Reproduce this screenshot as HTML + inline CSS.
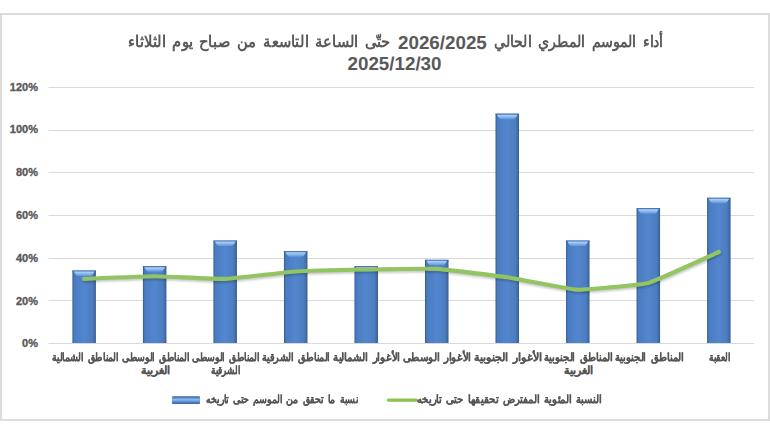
<!DOCTYPE html>
<html lang="ar"><head><meta charset="utf-8"><title>chart</title>
<style>
html,body{margin:0;padding:0;background:#fff}
body{width:770px;height:433px;position:relative;overflow:hidden;font-family:"Liberation Sans",sans-serif}
.box{position:absolute;left:0;top:13px;width:766px;height:404px;border:2px solid #dcdcdc}
svg{position:absolute;left:0;top:0}
.f{position:absolute;white-space:nowrap;direction:rtl;transform-origin:0 0;unicode-bidi:isolate}
.ta{font-size:16px;line-height:22px;color:#595959;font-weight:bold;word-spacing:3px}
.num{position:absolute;white-space:nowrap;color:#595959;font-weight:bold;font-size:18.8px;line-height:22px;text-rendering:geometricPrecision}
.yl{position:absolute;right:732px;font-size:11px;font-weight:bold;color:#595959;line-height:12px;white-space:nowrap;-webkit-text-stroke:0.35px #595959}
.xl{font-size:11px;font-weight:bold;color:#555555;line-height:13px;word-spacing:2px;-webkit-text-stroke:0.15px #555555}
.lg{font-size:10.5px;font-weight:bold;color:#555555;line-height:13px;word-spacing:2px;-webkit-text-stroke:0.15px #555555}
</style></head><body>
<div class="box"></div>

<svg width="770" height="433" viewBox="0 0 770 433"><defs>
<linearGradient id="bg" x1="0" x2="1" y1="0" y2="0">
<stop offset="0" stop-color="#35598c"/><stop offset="0.08" stop-color="#4a7cc2"/><stop offset="0.5" stop-color="#5386cd"/><stop offset="0.85" stop-color="#4b7dbf"/><stop offset="0.95" stop-color="#406aa2"/><stop offset="1" stop-color="#36598a"/>
</linearGradient>
<linearGradient id="hg" x1="0" x2="0" y1="0" y2="1">
<stop offset="0" stop-color="#b3d8fb"/><stop offset="1" stop-color="#5f95dc"/>
</linearGradient>
<linearGradient id="lgb" x1="0" x2="0" y1="0" y2="1">
<stop offset="0" stop-color="#34609f"/><stop offset="0.45" stop-color="#8dbdf0"/><stop offset="0.6" stop-color="#6a9ee0"/><stop offset="1" stop-color="#345f9c"/>
</linearGradient>
<filter id="sh" x="-5%" y="-50%" width="110%" height="200%"><feGaussianBlur stdDeviation="0.9"/></filter>
</defs><rect x="48.5" y="343" width="705.5" height="1" fill="#d9d9d9"/><rect x="48.5" y="300" width="705.5" height="1" fill="#d9d9d9"/><rect x="48.5" y="258" width="705.5" height="1" fill="#d9d9d9"/><rect x="48.5" y="215" width="705.5" height="1" fill="#d9d9d9"/><rect x="48.5" y="172" width="705.5" height="1" fill="#d9d9d9"/><rect x="48.5" y="130" width="705.5" height="1" fill="#d9d9d9"/><rect x="48.5" y="87" width="705.5" height="1" fill="#d9d9d9"/><rect x="72.40" y="270.54" width="23.5" height="72.46" fill="url(#bg)"/><rect x="72.40" y="270.54" width="23.5" height="1" fill="#3e67a3"/><path d="M73.90 271.54 L94.40 271.54 Q92.40 276.04 89.90 276.04 L78.40 276.04 Q75.90 276.04 73.90 271.54 Z" fill="url(#hg)"/><rect x="142.92" y="266.26" width="23.5" height="76.74" fill="url(#bg)"/><rect x="142.92" y="266.26" width="23.5" height="1" fill="#3e67a3"/><path d="M144.42 267.26 L164.92 267.26 Q162.92 271.76 160.42 271.76 L148.92 271.76 Q146.42 271.76 144.42 267.26 Z" fill="url(#hg)"/><rect x="213.44" y="240.58" width="23.5" height="102.42" fill="url(#bg)"/><rect x="213.44" y="240.58" width="23.5" height="1" fill="#3e67a3"/><path d="M214.94 241.58 L235.44 241.58 Q233.44 246.08 230.94 246.08 L219.44 246.08 Q216.94 246.08 214.94 241.58 Z" fill="url(#hg)"/><rect x="283.96" y="251.28" width="23.5" height="91.72" fill="url(#bg)"/><rect x="283.96" y="251.28" width="23.5" height="1" fill="#3e67a3"/><path d="M285.46 252.28 L305.96 252.28 Q303.96 256.78 301.46 256.78 L289.96 256.78 Q287.46 256.78 285.46 252.28 Z" fill="url(#hg)"/><rect x="354.48" y="266.26" width="23.5" height="76.74" fill="url(#bg)"/><rect x="354.48" y="266.26" width="23.5" height="1" fill="#3e67a3"/><path d="M355.98 267.26 L376.48 267.26 Q374.48 271.76 371.98 271.76 L360.48 271.76 Q357.98 271.76 355.98 267.26 Z" fill="url(#hg)"/><rect x="425.00" y="259.84" width="23.5" height="83.16" fill="url(#bg)"/><rect x="425.00" y="259.84" width="23.5" height="1" fill="#3e67a3"/><path d="M426.50 260.84 L447.00 260.84 Q445.00 265.34 442.50 265.34 L431.00 265.34 Q428.50 265.34 426.50 260.84 Z" fill="url(#hg)"/><rect x="495.52" y="113.68" width="23.5" height="229.32" fill="url(#bg)"/><rect x="495.52" y="113.68" width="23.5" height="1" fill="#3e67a3"/><path d="M497.02 114.68 L517.52 114.68 Q515.52 119.18 513.02 119.18 L501.52 119.18 Q499.02 119.18 497.02 114.68 Z" fill="url(#hg)"/><rect x="566.04" y="240.58" width="23.5" height="102.42" fill="url(#bg)"/><rect x="566.04" y="240.58" width="23.5" height="1" fill="#3e67a3"/><path d="M567.54 241.58 L588.04 241.58 Q586.04 246.08 583.54 246.08 L572.04 246.08 Q569.54 246.08 567.54 241.58 Z" fill="url(#hg)"/><rect x="636.56" y="208.27" width="23.5" height="134.73" fill="url(#bg)"/><rect x="636.56" y="208.27" width="23.5" height="1" fill="#3e67a3"/><path d="M638.06 209.27 L658.56 209.27 Q656.56 213.77 654.06 213.77 L642.56 213.77 Q640.06 213.77 638.06 209.27 Z" fill="url(#hg)"/><rect x="707.08" y="197.78" width="23.5" height="145.22" fill="url(#bg)"/><rect x="707.08" y="197.78" width="23.5" height="1" fill="#3e67a3"/><path d="M708.58 198.78 L729.08 198.78 Q727.08 203.28 724.58 203.28 L713.08 203.28 Q710.58 203.28 708.58 198.78 Z" fill="url(#hg)"/><path d="M84.15 278.90 C87.32 278.78 148.32 276.30 154.67 276.30 C161.02 276.30 218.84 279.12 225.19 278.90 C231.54 278.68 289.36 271.92 295.71 271.50 C302.06 271.08 359.88 269.62 366.23 269.50 C372.58 269.38 430.40 268.55 436.75 268.90 C443.10 269.25 500.92 276.36 507.27 277.30 C513.62 278.24 571.44 289.55 577.79 289.80 C584.14 290.05 641.96 284.60 648.31 282.90 C654.66 281.20 715.66 253.39 718.83 252.00" fill="none" stroke="#000" stroke-opacity="0.22" stroke-width="4" stroke-linecap="round" stroke-linejoin="round" transform="translate(0.6 1.8)" filter="url(#sh)"/><path d="M84.15 278.90 C87.32 278.78 148.32 276.30 154.67 276.30 C161.02 276.30 218.84 279.12 225.19 278.90 C231.54 278.68 289.36 271.92 295.71 271.50 C302.06 271.08 359.88 269.62 366.23 269.50 C372.58 269.38 430.40 268.55 436.75 268.90 C443.10 269.25 500.92 276.36 507.27 277.30 C513.62 278.24 571.44 289.55 577.79 289.80 C584.14 290.05 641.96 284.60 648.31 282.90 C654.66 281.20 715.66 253.39 718.83 252.00" fill="none" stroke="#92c462" stroke-width="4.1" stroke-linecap="round" stroke-linejoin="round"/><rect x="172" y="396.3" width="28" height="7.7" rx="1" fill="url(#lgb)"/><path d="M388.5 400.2 L416.5 400.2" stroke="#8cc152" stroke-width="3.2" stroke-linecap="round"/></svg>
<div class="num" style="left:398px;top:31.5px">2026/2025</div>
<div class="num" style="left:347.5px;top:53.3px">2025/12/30</div>
<div class="yl" style="top:337.3px">0%</div>
<div class="yl" style="top:294.5px">20%</div>
<div class="yl" style="top:251.7px">40%</div>
<div class="yl" style="top:208.9px">60%</div>
<div class="yl" style="top:166.1px">80%</div>
<div class="yl" style="top:123.3px">100%</div>
<div class="yl" style="top:80.5px">120%</div>
<div class="f ta" id="tA" style="left:127.8px;top:31px;transform:scaleX(0.7907)">حتّى الساعة التاسعة من صباح يوم الثلاثاء</div>
<div class="f ta" id="tB" style="left:493.6px;top:31px;transform:scaleX(0.7613)">أداء الموسم المطري الحالي</div>
<div class="f xl" id="x0a" style="left:51.5px;top:351px;transform:scaleX(0.7151)">المناطق الشمالية</div>
<div class="f xl" id="x1a" style="left:121.5px;top:351px;transform:scaleX(0.7031)">المناطق الوسطى</div>
<div class="f xl" id="x1b" style="left:140.8px;top:364px;transform:scaleX(0.8056)">الغربية</div>
<div class="f xl" id="x2a" style="left:192.0px;top:351px;transform:scaleX(0.7031)">المناطق الوسطى</div>
<div class="f xl" id="x2b" style="left:211.3px;top:364px;transform:scaleX(0.6591)">الشرقية</div>
<div class="f xl" id="x3a" style="left:262.3px;top:351px;transform:scaleX(0.7391)">المناطق الشرقية</div>
<div class="f xl" id="x4a" style="left:333.3px;top:351px;transform:scaleX(0.7701)">الأغوار الشمالية</div>
<div class="f xl" id="x5a" style="left:403.4px;top:351px;transform:scaleX(0.7556)">الأغوار الوسطى</div>
<div class="f xl" id="x6a" style="left:473.9px;top:351px;transform:scaleX(0.8095)">الأغوار الجنوبية</div>
<div class="f xl" id="x7a" style="left:544.1px;top:351px;transform:scaleX(0.7611)">المناطق الجنوبية</div>
<div class="f xl" id="x7b" style="left:563.9px;top:364px;transform:scaleX(0.8056)">الغربية</div>
<div class="f xl" id="x8a" style="left:614.7px;top:351px;transform:scaleX(0.7611)">المناطق الجنوبية</div>
<div class="f xl" id="x9a" style="left:708.7px;top:351px;transform:scaleX(0.6485)">العقبة</div>
<div class="f lg" id="lg1" style="left:206.3px;top:393px;transform:scaleX(0.7189)">نسبة ما تحقق من الموسم حتى تاريخه</div>
<div class="f lg" id="lg2" style="left:417.4px;top:393px;transform:scaleX(0.7566)">النسبة المئوية المفترض تحقيقها  حتى تاريخه</div>
<script>(function(){var T=[["tA", 262.5], ["tB", 169.0], ["x0a", 66.5], ["x1a", 67.5], ["x1b", 29.0], ["x2a", 67.5], ["x2b", 29.0], ["x3a", 68.0], ["x4a", 67.0], ["x5a", 68.0], ["x6a", 68.0], ["x7a", 68.5], ["x7b", 29.0], ["x8a", 68.5], ["x9a", 21.4], ["lg1", 152.4], ["lg2", 184.6]];for(var i=0;i<T.length;i++){var e=document.getElementById(T[i][0]);if(!e)continue;e.style.transform="none";var w=e.getBoundingClientRect().width;if(w>0)e.style.transform="scaleX("+(T[i][1]/w).toFixed(4)+")";}})();</script>
</body></html>
